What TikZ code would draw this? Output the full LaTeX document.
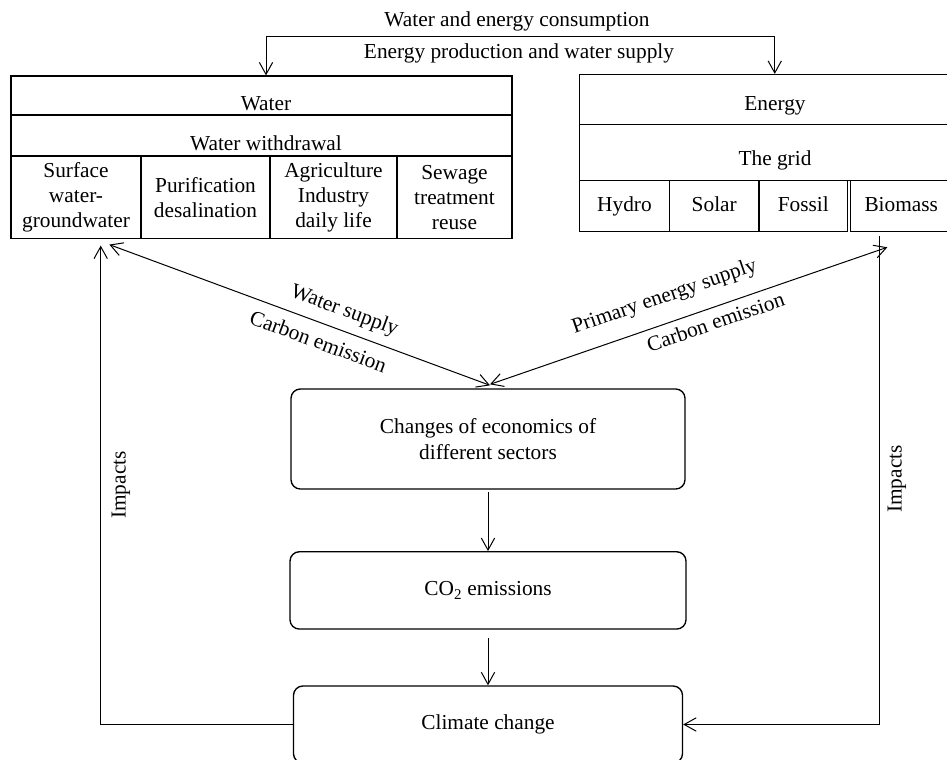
\documentclass[tikz,border=0pt]{standalone}
\usepackage{fontspec}
\setmainfont{Liberation Serif}
\usetikzlibrary{arrows.meta,calc}
\tikzset{
  cell/.style={draw, line width=0.9pt, inner sep=0pt, align=center},
  ecell/.style={cell, text height=11pt, text depth=3.5pt},
  wh/.style 2 args={minimum width=#1*0.75pt, minimum height=#2*0.75pt},
  rbox/.style={draw, line width=1pt, rounded corners=7pt, inner sep=0pt, align=center},
  conn/.style={line width=0.75pt},
  oneway/.style={-{Straight Barb[length=9pt,width=10pt]}},
  twoway/.style={{Straight Barb[length=9pt,width=10pt]}-{Straight Barb[length=9pt,width=10pt]}},
}
\begin{document}
\begin{tikzpicture}[x=0.75pt,y=-0.75pt,font=\fontsize{16}{18.75}\selectfont]
\useasboundingbox (0,0) rectangle (947,760);

% titles
\node[anchor=base] (t1) at (517,26.7) {Water and energy consumption};
\node[anchor=base] (t2) at (519,58.3) {Energy production and water supply};

% water table
\node[cell, wh={501}{39}] (wt) at (261.5,95.5) {};
\node[cell, wh={501}{41}] (ww) at (261.5,135.5) {};
\node[cell, wh={130}{82.3}] (w1) at (76,197.15) {Surface\\water-\\groundwater};
\node[cell, wh={129}{82.3}] (w2) at (205.5,197.15) {Purification\\desalination};
\node[cell, wh={127}{82.3}] (w3) at (333.5,197.15) {Agriculture\\Industry\\daily life};
\node[cell, wh={115}{82.3}] (w4) at (454.5,197.15) {Sewage\\treatment\\reuse};
\node[anchor=base] (wtt) at (266,110) {Water};
\node[anchor=base] (wwt) at (266,150.7) {Water withdrawal};

% energy table
\node[cell, wh={372.5}{50}] (et) at (765.75,99.5) {};
\node[cell, wh={372.5}{56}] (eg) at (765.75,152.5) {};
\node[ecell, wh={90}{51}] (e1) at (624.5,206) {Hydro};
\node[ecell, wh={89.5}{51}] (e2) at (714.25,206) {Solar};
\node[ecell, wh={88.5}{51}] (e3) at (803.25,206) {Fossil};
\node[ecell, wh={101.5}{51}] (e4) at (901.25,206) {Biomass};
\node[anchor=base] (ett) at (775,110) {Energy};
\node[anchor=base] (egt) at (775,165) {The grid};

% central boxes
\node[rbox, wh={394}{100}, font=\fontsize{16}{19.5}\selectfont] (b1) at (488,439) {Changes of economics of\\different sectors};
\node[rbox, wh={396}{77.3}] (b2) at (488,590.4) {CO\textsubscript{2} emissions};
\node[rbox, wh={389}{77}] (b3) at (488,724.5) {Climate change};

% vertical flow
\draw[conn, oneway, shorten <=1.5pt] (b1.south) -- (b2.north);
\draw[conn, oneway, shorten <=6.5pt] (b2.south) -- (b3.north);

% top connector
\draw[conn, twoway] ($(wt.north)+(4.5,0)$) |- ($(et.north)+(9,-37.8)$) -- ($(et.north)+(9,0)$);

% feedback loops
\draw[conn, oneway] (b3.west) -| ($(w1.south)+(24.7,6.7)$);
\draw[conn, oneway] ($(e4.south)+(-22.25,3.5)$) |- (b3.east);
\node[rotate=90] (imL) at (121,485) {Impacts};
\node[rotate=90] (imR) at (897,479) {Impacts};

% diagonals
\draw[conn, twoway] ($(w1.south)+(33.3,5.7)$) -- ($(b1.north)+(2,-3)$)
  node[pos=0.6, sloped, above=3.3pt] (lws) {Water supply}
  node[pos=0.566, sloped, below=4.3pt] (lce) {Carbon emission};
\draw[conn, twoway] ($(b1.north)+(2,-4)$) -- ($(e4.south)+(-13.95,15.2)$)
  node[pos=0.46, sloped, above=8pt] (rps) {Primary energy supply}
  node[pos=0.556, sloped, below=1.5pt] (rce) {Carbon emission};
\end{tikzpicture}
\end{document}
